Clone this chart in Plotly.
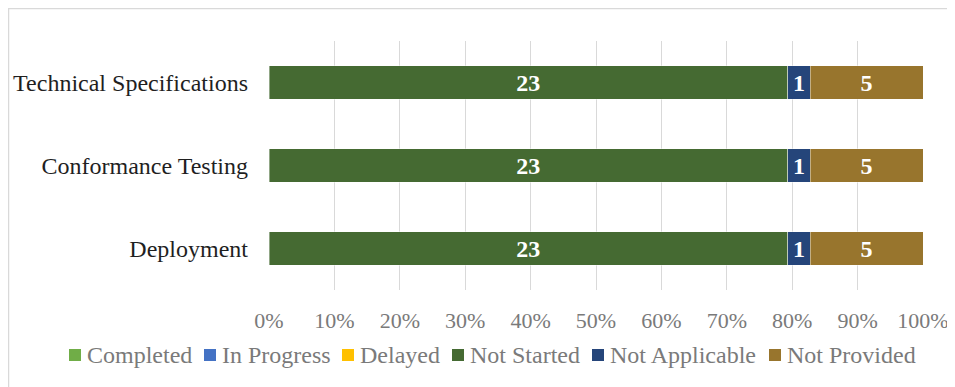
import plotly.graph_objects as go

categories = ["Technical Specifications", "Conformance Testing", "Deployment"]
series_names = ["Completed", "In Progress", "Delayed", "Not Started", "Not Applicable", "Not Provided"]
completed = [0, 0, 0]
in_progress = [0, 0, 0]
delayed = [0, 0, 0]
not_started = [23, 23, 23]
not_applicable = [1, 1, 1]
not_provided = [5, 5, 5]
colors = ["#70AD47", "#4472C4", "#FFC000", "#456A32", "#25457A", "#98752D"]
x_ticks = [0, 10, 20, 30, 40, 50, 60, 70, 80, 90, 100]
x_tick_labels = [f"{t}%" for t in x_ticks]

values = [completed, in_progress, delayed, not_started, not_applicable, not_provided]

# the page places the figure 8px in from the window's top-left corner
OFF = 8
W, H = 955, 387
L, R, T, B = 269 - OFF, 955 - (923 - OFF), 41 - OFF, 387 - (290 - OFF)
pw, ph = W - L - R, H - T - B

def px_x(x):
    return (x - OFF - L) / pw

def px_y(y):
    return (H - B - (y - OFF)) / ph

fig = go.Figure()
for name, vals, col in zip(series_names, values, colors):
    fig.add_trace(go.Bar(
        y=categories, x=vals, name=name, orientation="h",
        marker=dict(color=col, line=dict(color="rgba(255,255,255,0.55)", width=0.75)),
        text=[str(v) if v > 0 else "" for v in vals],
        textposition="inside", insidetextanchor="middle",
        textfont=dict(family="Liberation Serif", size=24, color="white", weight="bold"),
        hoverinfo="skip", showlegend=False,
    ))

# custom legend (Excel-style compact layout), window pixel positions
legend_icon_x = [69, 204, 342, 452, 592, 769]
legend_y = 355
shapes = []
annotations = []
for name, col, px in zip(series_names, colors, legend_icon_x):
    shapes.append(dict(type="rect", xref="paper", yref="paper",
                       x0=px_x(px), x1=px_x(px + 12),
                       y0=px_y(legend_y + 6), y1=px_y(legend_y - 6),
                       line=dict(width=0), fillcolor=col))
    annotations.append(dict(text=name, xref="paper", yref="paper",
                            x=px_x(px + 16), y=px_y(legend_y),
                            xanchor="left", yanchor="middle", showarrow=False,
                            font=dict(family="Liberation Serif", size=24, color="#7A7A7A")))

# chart-area border (left and top edges visible)
shapes.append(dict(type="rect", xref="paper", yref="paper",
                   x0=(0.5 - L) / pw, x1=(W + 40 - L) / pw,
                   y0=(H - B - (H + 40)) / ph, y1=(H - B - 0.5) / ph,
                   line=dict(color="#D9D9D9", width=1.5), fillcolor="rgba(0,0,0,0)", layer="below"))

fig.update_layout(
    width=W, height=H,
    barmode="stack", barnorm="percent", bargap=0.6,
    paper_bgcolor="white", plot_bgcolor="white",
    margin=dict(l=L, r=R, t=T, b=B, autoexpand=False),
    font=dict(family="Liberation Serif", color="#595959"),
    showlegend=False,
    xaxis=dict(range=[0, 100], tickmode="array", tickvals=x_ticks, ticktext=x_tick_labels,
               showgrid=True, gridcolor="#D9D9D9", gridwidth=1, zeroline=False,
               showline=False, ticks="", tickfont=dict(size=22, color="#7A7A7A"),
               ticklabelstandoff=15, automargin=False, fixedrange=True),
    yaxis=dict(categoryorder="array", categoryarray=categories[::-1],
               showgrid=False, showline=False, ticks="", automargin=False,
               tickfont=dict(size=24, color="#1F1F1F"), ticklabelstandoff=20),
    shapes=shapes,
    annotations=annotations,
)

fig.write_html("out.html")
